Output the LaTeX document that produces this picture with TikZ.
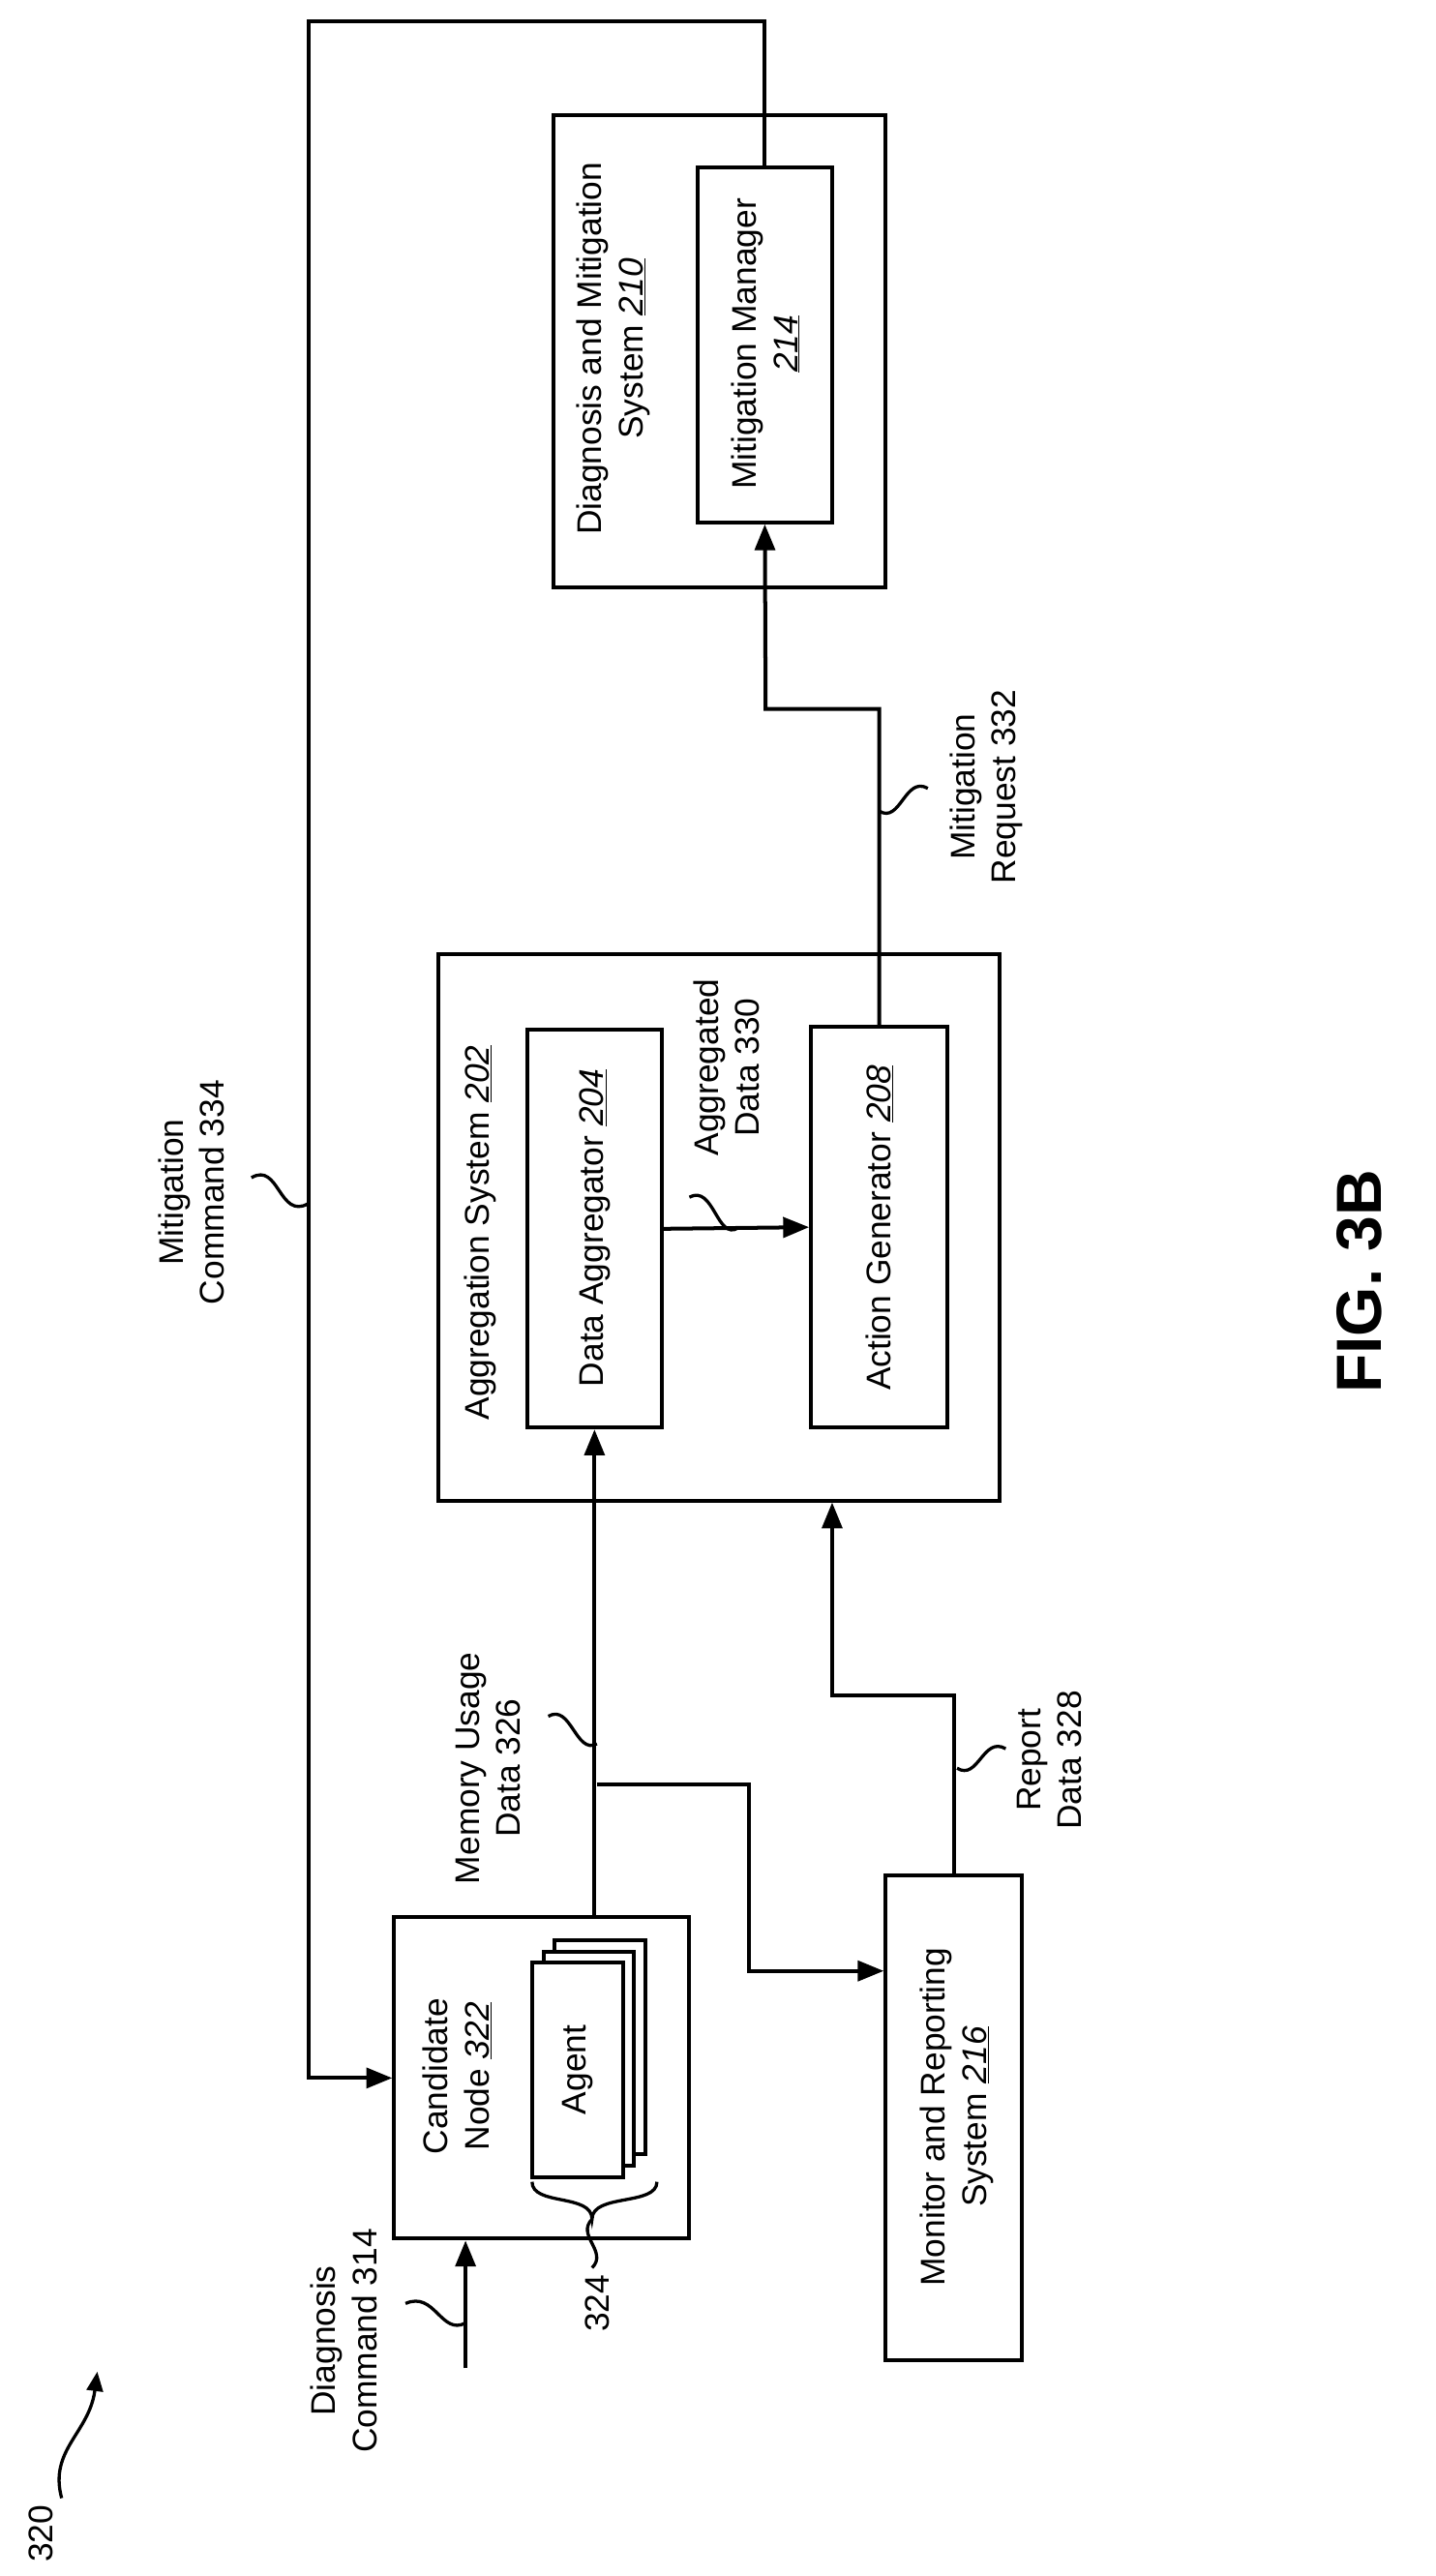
\documentclass[tikz,border=0pt]{standalone}
\usepackage{fontspec}
\setmainfont{Liberation Sans}
\usetikzlibrary{arrows.meta}
\begin{document}
\begin{tikzpicture}[x=0.05cm,y=-0.05cm,
  box/.style={draw,line width=3.4pt,inner sep=0pt},
  lbl/.style={rotate=90,align=center,font=\fontsize{30}{36}\selectfont,inner sep=0pt},
  arr/.style={line width=3.4pt,-{Triangle[length=0.8cm,width=0.62cm]}},
  sq/.style={line width=2.8pt}]
\useasboundingbox (0,0) rectangle (885,1588);
% boxes
\node[box,minimum width=10.25cm,minimum height=14.55cm] (dms) at (443.5,216.5) {};
\node[box,minimum width=4.15cm,minimum height=10.95cm] (mm) at (471.5,212.5) {};
\node[box,minimum width=17.3cm,minimum height=16.85cm] (ags) at (443,756.5) {};
\node[box,minimum width=4.15cm,minimum height=12.25cm] (da) at (366.5,757.5) {};
\node[box,minimum width=4.2cm,minimum height=12.35cm] (ag) at (542,756.5) {};
\node[box,minimum width=9.1cm,minimum height=9.9cm] (cn) at (334,1281) {};
\node[box,minimum width=4.2cm,minimum height=14.95cm] (mrs) at (588,1305.5) {};
% agent stack
\node[box,fill=white,minimum width=2.8cm,minimum height=6.6cm] (a3) at (370,1262) {};
\node[box,fill=white,minimum width=2.8cm,minimum height=6.6cm] (a2) at (363,1269) {};
\node[box,fill=white,minimum width=2.8cm,minimum height=6.6cm] (a1) at (356,1276) {};
\node[lbl] (at) at (a1.center) {Agent};
% box texts
\node[lbl] (t1) at (378,215) {Diagnosis and Mitigation\\System \underline{\textit{210}}};
\node[lbl] (t2) at (472,212) {Mitigation Manager\\\underline{\textit{214}}};
\node[lbl] (t3) at (296,760) {Aggregation System \underline{\textit{202}}};
\node[lbl] (t4) at (367,757) {Data Aggregator \underline{\textit{204}}};
\node[lbl] (t5) at (542,757) {Action Generator \underline{\textit{208}}};
\node[lbl] (t6) at (282,1280) {Candidate\\Node \underline{\textit{322}}};
\node[lbl] (t7) at (590,1305) {Monitor and Reporting\\System \underline{\textit{216}}};
% connectors
\coordinate (c1) at (190,13);
\draw[arr] (mm.north) |- (c1) |- (cn.west);
\draw[arr] (da.south |- cn.north) -- (da.south);
\coordinate (b1) at (368,1100);
\coordinate (b2) at (462,1215);
\draw[arr] (b1) -| (b2) -- (b2 -| mrs.west);
\coordinate (r1) at (513,1045);
\draw[arr] (mrs.north) |- (r1) -- (r1 |- ags.south);
\draw[arr] (da.east) -- (ag.west);
\coordinate (q1) at (472,437);
\draw[arr] (ag.north) |- (q1) -- (mm.south);
\coordinate (d0) at (287,1460);
\draw[arr] (d0) -- (d0 |- cn.south);
% labels
\node[lbl] (l1) at (118,735) {Mitigation\\Command 334};
\draw[sq] (190,742) .. controls (172,752) and (172,716) .. (155,726);
\node[lbl] (l2) at (301,1090) {Memory Usage\\Data 326};
\draw[sq] (368,1075) .. controls (355,1082) and (352,1050) .. (338,1058);
\node[lbl] (l3) at (647,1085) {Report\\Data 328};
\draw[sq] (590,1090) .. controls (603,1098) and (606,1070) .. (620,1078);
\node[lbl] (l4) at (448,658) {Aggregated\\Data 330};
\draw[sq] (455,757) .. controls (442,765) and (440,730) .. (425,738);
\node[lbl] (l5) at (608,485) {Mitigation\\Request 332};
\draw[sq] (542,500) .. controls (555,508) and (558,478) .. (572,486);
\node[lbl] (l6) at (212,1443) {Diagnosis\\Command 314};
\draw[sq] (287,1432) .. controls (272,1440) and (268,1412) .. (250,1420);
% brace 324
\draw[sq] (328,1345) .. controls (328,1360) and (365,1352) .. (365,1368)
          .. controls (365,1352) and (405,1360) .. (405,1345);
\draw[sq] (365,1368) .. controls (355,1378) and (375,1388) .. (365,1398);
\node[lbl] (l7) at (368,1420) {324};
% 320
\node[lbl] (l8) at (25,1562) {320};
\draw[line width=2.8pt,-{Triangle[length=0.6cm,width=0.5cm]}] (38,1540) .. controls (30,1510) and (55,1500) .. (60,1462);
% fig
\node[rotate=90,font=\fontsize{56}{60}\selectfont\bfseries,inner sep=0pt] (fig) at (838,790) {FIG. 3B};
\end{tikzpicture}
\end{document}
